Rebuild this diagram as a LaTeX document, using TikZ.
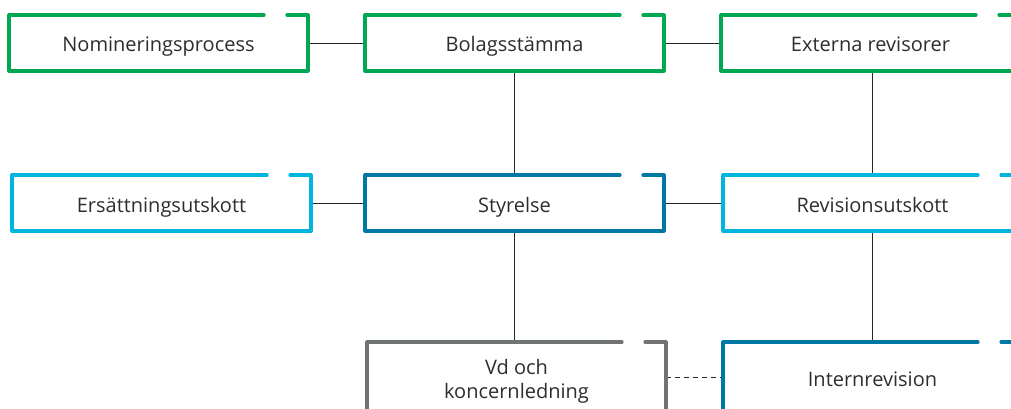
\documentclass[tikz,border=0pt]{standalone}
\usepackage{fontspec}
\setmainfont{Open Sans}
\usepackage{tikz}

\definecolor{orggreen}{RGB}{0,168,82}
\definecolor{orgcyan}{RGB}{0,182,224}
\definecolor{orgblue}{RGB}{0,120,165}
\definecolor{orggrey}{RGB}{112,116,112}
\definecolor{orgtext}{RGB}{45,45,45}

\begin{document}
\begin{tikzpicture}[x=1pt, y=-1pt,
    orgbox/.style={rectangle, inner sep=0pt, outer sep=0pt, minimum width=299pt,
        minimum height=56pt, align=center, text=orgtext, text height=18pt, text depth=0pt,
        font=\fontsize{20}{24}\selectfont},
    tallbox/.style={orgbox, minimum height=70pt},
    frame/.style={line width=3.2pt, line cap=round, line join=round},
    link/.style={line width=0.9pt, draw=black!85}]
    \useasboundingbox (0,0) rectangle (1011,409);

    \node[orgbox] (nom) at (158.5,43) {Nomineringsprocess};
    \node[orgbox] (bol) at (514.5,43) {Bolagsstämma};
    \node[orgbox] (ext) at (870.5,43) {Externa revisorer};
    \node[orgbox] (ers) at (161.5,203) {Ersättningsutskott};
    \node[orgbox] (sty) at (514.5,203) {Styrelse};
    \node[orgbox] (rev) at (872.5,203) {Revisionsutskott};
    \node[tallbox, text height=42pt] (vd) at (516.5,377) {Vd och\\koncernledning};
    \node[tallbox] (int) at (872.5,377) {Internrevision};

    \draw[link] (nom) -- (bol);
    \draw[link] (bol) -- (ext);
    \draw[link] (ers) -- (sty);
    \draw[link] (sty) -- (rev);
    \draw[link] (bol.south) -- (sty.north);
    \draw[link] (sty.south) -- (sty.south |- vd.north);
    \draw[link] (ext.south -| rev.north) -- (rev.north);
    \draw[link] (rev.south) -- (int.north);
    \draw[link, dash pattern=on 5pt off 4pt] (vd.east) -- (int.west);

    \foreach \n/\c in {nom/orggreen, bol/orggreen, ext/orggreen, ers/orgcyan,
                       sty/orgblue, rev/orgcyan, vd/orggrey, int/orgblue}
        \draw[frame, draw=\c] ([xshift=-44pt]\n.north east) -- (\n.north west)
            -- (\n.south west) -- (\n.south east) -- (\n.north east)
            -- ([xshift=-21pt]\n.north east);
\end{tikzpicture}
\end{document}
